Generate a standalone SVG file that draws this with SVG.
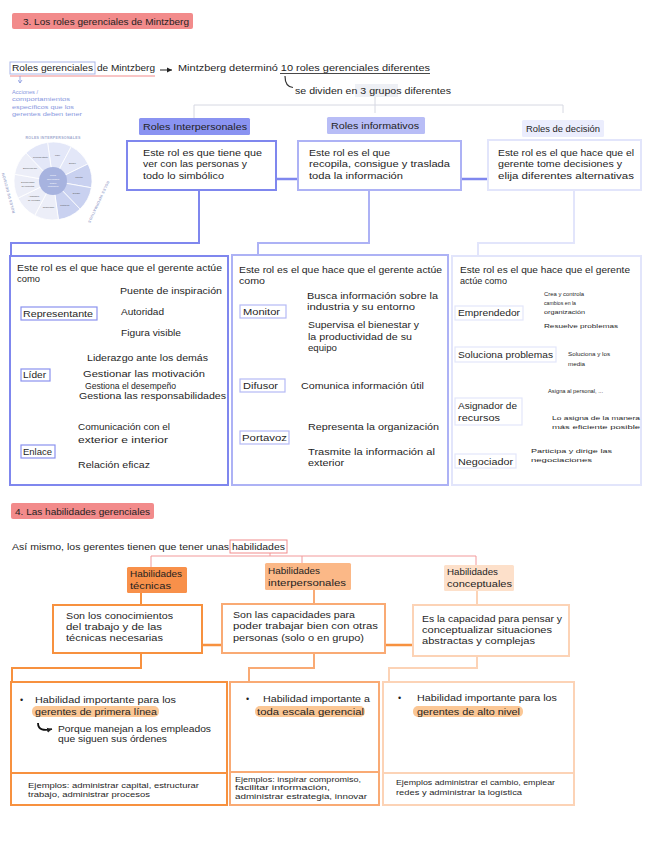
<svg xmlns="http://www.w3.org/2000/svg" width="649" height="848" viewBox="0 0 649 848">
<style>
text{font-family:"Liberation Sans",Arial,sans-serif;font-size:9px;fill:#1f1f1f}
.s{font-size:6px}
.e{font-size:6.5px}
.bl{font-size:5.5px;fill:#8797de}
.w{font-size:2.3px;fill:#555;text-anchor:middle}
.wc{font-size:2.4px;fill:#fff;text-anchor:middle}
.arc{font-size:3.6px;fill:#a3abcf;font-weight:bold;letter-spacing:0.3px;text-anchor:middle}
.hdr{fill:#f28b8b}
.b1{fill:#fff;stroke:#7f87ee;stroke-width:2}
.b2{fill:#fff;stroke:#adb2f5;stroke-width:2}
.b3{fill:#fff;stroke:#e2e5fb;stroke-width:2}
.l1{fill:#fff;stroke:#8a92ef;stroke-width:1.2}
.l2{fill:#fff;stroke:#b5baf5;stroke-width:1.2}
.l3{fill:#fff;stroke:#e3e6fb;stroke-width:1.2}
.o1{fill:#fff;stroke:#f7913f;stroke-width:2}
.o2{fill:#fff;stroke:#f9aa74;stroke-width:2}
.o3{fill:#fff;stroke:#fcd3b6;stroke-width:2}
.hl{fill:#fbc795}
.k1{fill:none;stroke:#7f87ee;stroke-width:2}
.k2{fill:none;stroke:#adb2f5;stroke-width:2}
.k3{fill:none;stroke:#e2e5fb;stroke-width:2}
.br1{fill:none;stroke:#8a92ef;stroke-width:1.2}
.br2{fill:none;stroke:#b5baf5;stroke-width:1.2}
.br3{fill:none;stroke:#e3e6fb;stroke-width:1.2}
.ko1{fill:none;stroke:#f7913f;stroke-width:2}
.ko2{fill:none;stroke:#f9aa74;stroke-width:2}
.ko3{fill:none;stroke:#fcd3b6;stroke-width:2}
.red{fill:none;stroke:#f2999a;stroke-width:1}
.grey{fill:none;stroke:#d6d8e2;stroke-width:1}
.seg{stroke:#fff;stroke-width:0.8}
</style>
<defs>
<marker id="ah" markerWidth="6" markerHeight="6" refX="5" refY="3" orient="auto" markerUnits="userSpaceOnUse"><path d="M0,0.5 L5,3 L0,5.5 Z" fill="#222"/></marker>
<marker id="ahb" markerWidth="5" markerHeight="5" refX="2.5" refY="4" orient="0" markerUnits="userSpaceOnUse"><path d="M0.5,1 L2.5,4 L4.5,1" fill="none" stroke="#8797de" stroke-width="0.8"/></marker>
</defs>

<g id="connectors">
<path d="M10,76 H155" stroke="#f28b8b" stroke-width="1.2" fill="none"/>
<path d="M160,70 H172" stroke="#222" stroke-width="1" fill="none" marker-end="url(#ah)"/>
<path d="M280,73.5 H430" stroke="#333" stroke-width="0.9" fill="none"/>
<path d="M285,76 C285,83 287,87 293,87.5" stroke="#333" stroke-width="1.2" fill="none"/>
<path d="M20,76 V83" stroke="#8797de" stroke-width="0.8" fill="none" marker-end="url(#ahb)"/>
<path class="grey" d="M194,118 V105 H563 V113 M375,97 V113"/>
<path d="M276,179 H298 M461,179 H488" stroke="#7f87ee" stroke-width="2.5" fill="none"/>
<path class="k1" d="M199,190 V243 H11 V256"/>
<path class="k2" d="M369,190 V243 H258 V255"/>
<path class="k3" d="M574,190 V243 H478 V256"/>
<path class="br1" d="M97,313 H106 M118,291 C109,291 106,294 106,300 V326 C106,332 109,335 118,335 M106,312 H118"/>
<path class="br1" d="M50,375 H63 M76,358 C67,358 63,361 63,367 V391 C63,396 67,399 76,399 M63,375 H79 M63,387 H82"/>
<path class="br1" d="M55,452 H63 M74,429 C66,429 63,432 63,438 V460 C63,465 66,468 74,468"/>
<path class="br2" d="M286,311 H293 M304,297 C297,297 293,300 293,305 V321 C293,326 297,328 304,328"/>
<path class="br2" d="M285,386 H296"/>
<path class="br2" d="M289,438 H293 M304,428 C297,428 293,431 293,436 V446 C293,451 297,453 304,453"/>
<path class="br3" d="M523,313 H530 M541,292 C534,292 530,296 530,302 V320 C530,325 534,327 541,327"/>
<path class="br3" d="M556,355 H564"/>
<path class="br3" d="M522,412 H533 M546,391 C538,391 533,396 533,403 V412 C533,418 538,420 549,420"/>
<path class="br3" d="M516,461 C523,461 522,452 529,452"/>
<path class="red" d="M151,568 V556 H476 V566 M302,556 V563 M270,553 V556"/>
<path class="ko1" d="M141,593 V605"/>
<path class="ko2" d="M314,590 V604"/>
<path class="ko3" d="M477,591 V605"/>
<path d="M202,645 H222 M385,645 H413" stroke="#f7913f" stroke-width="2.5" fill="none"/>
<path class="ko1" d="M141,653 V668 H12 V682"/>
<path class="ko2" d="M314,653 V668 H249 V682"/>
<path class="ko3" d="M477,656 V668 H389 V682"/>
</g>

<g id="header3">
<rect class="hdr" x="12" y="13" width="181" height="16" rx="2"/>
<text x="23" y="24.5" textLength="166" lengthAdjust="spacingAndGlyphs">3. Los roles gerenciales de Mintzberg</text>
</g>

<g id="title-roles">
<rect x="10" y="62" width="85" height="12" fill="none" stroke="#a9b6e8" stroke-width="1"/>
<text x="12" y="71" textLength="81" lengthAdjust="spacingAndGlyphs">Roles gerenciales</text>
<text x="97" y="71" textLength="58" lengthAdjust="spacingAndGlyphs">de Mintzberg</text>
</g>
<g id="title-def">
<text x="178" y="71" textLength="252" lengthAdjust="spacingAndGlyphs">Mintzberg determinó 10 roles gerenciales diferentes</text>
</g>
<g id="title-groups">
<rect x="355" y="84" width="43" height="13" fill="#eef0f5"/>
<text x="295" y="94" textLength="156" lengthAdjust="spacingAndGlyphs">se dividen en 3 grupos diferentes</text>
</g>
<g id="note-acciones">
<text class="bl" x="12" y="94" textLength="26" lengthAdjust="spacingAndGlyphs">Acciones /</text>
<text class="bl" x="12" y="101" textLength="58" lengthAdjust="spacingAndGlyphs">comportamientos</text>
<text class="bl" x="12" y="109" textLength="62" lengthAdjust="spacingAndGlyphs">específicos que los</text>
<text class="bl" x="12" y="116" textLength="70" lengthAdjust="spacingAndGlyphs">gerentes deben tener</text>
</g>

<g id="wheel" transform="translate(53,181)">
<path class="seg" d="M0,0 L-5.43,-38.62 A39,39 0 0 1 18.31,-34.43 Z" fill="#e3e7f8"/>
<path class="seg" d="M0,0 L18.31,-34.43 A39,39 0 0 1 35.05,-17.10 Z" fill="#e3e7f8"/>
<path class="seg" d="M0,0 L35.05,-17.10 A39,39 0 0 1 38.41,6.77 Z" fill="#c9d1f0"/>
<path class="seg" d="M0,0 L38.41,6.77 A39,39 0 0 1 27.09,28.05 Z" fill="#c9d1f0"/>
<path class="seg" d="M0,0 L27.09,28.05 A39,39 0 0 1 5.43,38.62 Z" fill="#c9d1f0"/>
<path class="seg" d="M0,0 L5.43,38.62 A39,39 0 0 1 -18.31,34.43 Z" fill="#eceef8"/>
<path class="seg" d="M0,0 L-18.31,34.43 A39,39 0 0 1 -35.05,17.10 Z" fill="#eceef8"/>
<path class="seg" d="M0,0 L-35.05,17.10 A39,39 0 0 1 -38.41,-6.77 Z" fill="#eceef8"/>
<path class="seg" d="M0,0 L-38.41,-6.77 A39,39 0 0 1 -27.09,-28.05 Z" fill="#eceef8"/>
<path class="seg" d="M0,0 L-27.09,-28.05 A39,39 0 0 1 -5.43,-38.62 Z" fill="#e3e7f8"/>
<circle r="14" fill="#a7b3df"/>
<text class="wc" x="0" y="-5">Roles</text>
<text class="wc" x="0" y="-1.2">gerenciales</text>
<text class="wc" x="0" y="2.6">según</text>
<text class="wc" x="0" y="6.4">Mintzberg</text>
<text class="w" x="4.5" y="-25.5">Líder</text>
<text class="w" x="19.5" y="-17.3">Enlace</text>
<text class="w" x="26" y="-2.8">Monitor</text>
<text class="w" x="23.5" y="13">Difusor</text>
<text class="w" x="11.8" y="24.6">Portavoz</text>
<text class="w" x="-4.5" y="27.4">Negociador</text>
<text class="w" x="-19" y="16.4">Asignador</text>
<text class="w" x="-19" y="20.2">de recursos</text>
<text class="w" x="-25.2" y="1.8">Solucionador</text>
<text class="w" x="-25.2" y="5.6">de conflictos</text>
<text class="w" x="-23" y="-12">Emprendedor</text>
<text class="w" x="-12.5" y="-23.2">Representante</text>
<text class="arc" x="0" y="-42.5">ROLES INTERPERSONALES</text>
<text class="arc" transform="translate(44.5,20.5) rotate(115)">ROLES INFORMATIVOS</text>
<text class="arc" transform="translate(-43.5,11.6) rotate(-105)">ROLES DE DECISIÓN</text>
</g>

<g id="roles-interpersonales">
<rect x="139" y="118" width="111" height="17" fill="#8a93f1" rx="1.5"/>
<text x="143" y="130" textLength="104" lengthAdjust="spacingAndGlyphs">Roles Interpersonales</text>
</g>
<g id="roles-informativos">
<rect x="327" y="117" width="98" height="17" fill="#b8bdf6" rx="1.5"/>
<text x="331" y="129" textLength="88" lengthAdjust="spacingAndGlyphs">Roles informativos</text>
</g>
<g id="roles-decision">
<rect x="522" y="120" width="82" height="17" fill="#ebedfd" rx="1.5"/>
<text x="526" y="132" textLength="74" lengthAdjust="spacingAndGlyphs">Roles de decisión</text>
</g>

<g id="desc-interpersonales">
<rect class="b1" x="127" y="141" width="149" height="49"/>
<text x="143" y="156" textLength="119" lengthAdjust="spacingAndGlyphs">Este rol es que tiene que</text>
<text x="143" y="167" textLength="104" lengthAdjust="spacingAndGlyphs">ver con las personas y</text>
<text x="143" y="179" textLength="81" lengthAdjust="spacingAndGlyphs">todo lo simbólico</text>
</g>
<g id="desc-informativos">
<rect class="b2" x="298" y="141" width="163" height="49"/>
<text x="309" y="156" textLength="81" lengthAdjust="spacingAndGlyphs">Este rol es el que</text>
<text x="309" y="167" textLength="141" lengthAdjust="spacingAndGlyphs">recopila, consigue y traslada</text>
<text x="309" y="179" textLength="94" lengthAdjust="spacingAndGlyphs">toda la información</text>
</g>
<g id="desc-decision">
<rect class="b3" x="488" y="140" width="153" height="50"/>
<text x="498" y="156" textLength="136" lengthAdjust="spacingAndGlyphs">Este rol es el que hace que el</text>
<text x="498" y="167" textLength="124" lengthAdjust="spacingAndGlyphs">gerente tome decisiones y</text>
<text x="498" y="179" textLength="136" lengthAdjust="spacingAndGlyphs">elija diferentes alternativas</text>
</g>

<g id="detalle-interpersonales">
<rect class="b1" x="10" y="256" width="218" height="229"/>
<text x="17" y="271" textLength="205" lengthAdjust="spacingAndGlyphs">Este rol es el que hace que el gerente actúe</text>
<text x="17" y="282" textLength="23" lengthAdjust="spacingAndGlyphs">como</text>
<rect class="l1" x="21" y="307" width="76" height="13"/>
<text x="23" y="317" textLength="70" lengthAdjust="spacingAndGlyphs">Representante</text>
<text x="120" y="294" textLength="102" lengthAdjust="spacingAndGlyphs">Puente de inspiración</text>
<text x="121" y="315" textLength="43" lengthAdjust="spacingAndGlyphs">Autoridad</text>
<text x="121" y="336" textLength="60" lengthAdjust="spacingAndGlyphs">Figura visible</text>
<rect class="l1" x="21" y="369" width="29" height="12"/>
<text x="23" y="378" textLength="23" lengthAdjust="spacingAndGlyphs">Líder</text>
<text x="87" y="361" textLength="121" lengthAdjust="spacingAndGlyphs">Liderazgo ante los demás</text>
<text x="83" y="377" textLength="122" lengthAdjust="spacingAndGlyphs">Gestionar las motivación</text>
<text x="85" y="389" textLength="91" lengthAdjust="spacingAndGlyphs">Gestiona el desempeño</text>
<text x="79" y="399" textLength="147" lengthAdjust="spacingAndGlyphs">Gestiona las responsabilidades</text>
<rect class="l1" x="21" y="445" width="34" height="13"/>
<text x="23" y="455" textLength="29" lengthAdjust="spacingAndGlyphs">Enlace</text>
<text x="78" y="430" textLength="92" lengthAdjust="spacingAndGlyphs">Comunicación con el</text>
<text x="78" y="443" textLength="90" lengthAdjust="spacingAndGlyphs">exterior e interior</text>
<text x="78" y="468" textLength="72" lengthAdjust="spacingAndGlyphs">Relación eficaz</text>
</g>

<g id="detalle-informativos">
<rect class="b2" x="232" y="255" width="216" height="230"/>
<text x="239" y="273" textLength="203" lengthAdjust="spacingAndGlyphs">Este rol es el que hace que el gerente actúe</text>
<text x="239" y="284" textLength="26" lengthAdjust="spacingAndGlyphs">como</text>
<rect class="l2" x="240" y="305" width="46" height="13"/>
<text x="243" y="315" textLength="37" lengthAdjust="spacingAndGlyphs">Monitor</text>
<text x="307" y="299" textLength="131" lengthAdjust="spacingAndGlyphs">Busca información sobre la</text>
<text x="307" y="310" textLength="108" lengthAdjust="spacingAndGlyphs">industria y su entorno</text>
<text x="308" y="328" textLength="111" lengthAdjust="spacingAndGlyphs">Supervisa el bienestar y</text>
<text x="308" y="340" textLength="104" lengthAdjust="spacingAndGlyphs">la productividad de su</text>
<text x="308" y="351" textLength="29" lengthAdjust="spacingAndGlyphs">equipo</text>
<rect class="l2" x="240" y="379" width="45" height="13"/>
<text x="243" y="389" textLength="35" lengthAdjust="spacingAndGlyphs">Difusor</text>
<text x="301" y="389" textLength="123" lengthAdjust="spacingAndGlyphs">Comunica información útil</text>
<rect class="l2" x="240" y="431" width="49" height="13"/>
<text x="242" y="441" textLength="45" lengthAdjust="spacingAndGlyphs">Portavoz</text>
<text x="308" y="430" textLength="131" lengthAdjust="spacingAndGlyphs">Representa la organización</text>
<text x="308" y="455" textLength="127" lengthAdjust="spacingAndGlyphs">Trasmite la información al</text>
<text x="308" y="466" textLength="36" lengthAdjust="spacingAndGlyphs">exterior</text>
</g>

<g id="detalle-decision">
<rect class="b3" x="452" y="256" width="189" height="229"/>
<text x="460" y="273" textLength="170" lengthAdjust="spacingAndGlyphs">Este rol es el que hace que el gerente</text>
<text x="460" y="284" textLength="47" lengthAdjust="spacingAndGlyphs">actúe como</text>
<rect class="l3" x="455" y="306" width="68" height="14"/>
<text x="458" y="316" textLength="62" lengthAdjust="spacingAndGlyphs">Emprendedor</text>
<text class="s" x="544" y="296" textLength="40" lengthAdjust="spacingAndGlyphs">Crea y controla</text>
<text class="s" x="544" y="305" textLength="32" lengthAdjust="spacingAndGlyphs">cambios en la</text>
<text class="s" x="544" y="314" textLength="41" lengthAdjust="spacingAndGlyphs">organización</text>
<text class="s" x="544" y="328" textLength="74" lengthAdjust="spacingAndGlyphs">Resuelve problemas</text>
<rect class="l3" x="455" y="347" width="101" height="15"/>
<text x="458" y="358" textLength="95" lengthAdjust="spacingAndGlyphs">Soluciona problemas</text>
<text class="s" x="568" y="356" textLength="42" lengthAdjust="spacingAndGlyphs">Soluciona y los</text>
<text class="s" x="568" y="366" textLength="17" lengthAdjust="spacingAndGlyphs">media</text>
<rect class="l3" x="455" y="398" width="67" height="27"/>
<text x="458" y="409" textLength="59" lengthAdjust="spacingAndGlyphs">Asignador de</text>
<text x="458" y="421" textLength="42" lengthAdjust="spacingAndGlyphs">recursos</text>
<text class="s" x="548" y="393" textLength="55" lengthAdjust="spacingAndGlyphs">Asigna al personal, ...</text>
<text class="s" x="552" y="420" textLength="88" lengthAdjust="spacingAndGlyphs">Lo asigna de la manera</text>
<text class="s" x="552" y="429" textLength="88" lengthAdjust="spacingAndGlyphs">más eficiente posible</text>
<rect class="l3" x="455" y="454" width="61" height="14"/>
<text x="458" y="465" textLength="55" lengthAdjust="spacingAndGlyphs">Negociador</text>
<text class="s" x="531" y="453" textLength="81" lengthAdjust="spacingAndGlyphs">Participa y dirige las</text>
<text class="s" x="531" y="462" textLength="61" lengthAdjust="spacingAndGlyphs">negociaciones</text>
</g>

<g id="header4">
<rect class="hdr" x="11" y="503" width="143" height="16" rx="2"/>
<text x="15" y="514.5" textLength="135" lengthAdjust="spacingAndGlyphs">4. Las habilidades gerenciales</text>
</g>
<g id="intro-habilidades">
<text x="12" y="550" textLength="217" lengthAdjust="spacingAndGlyphs">Así mismo, los gerentes tienen que tener unas</text>
<rect x="230" y="540" width="57" height="13" fill="none" stroke="#f28b8b" stroke-width="1"/>
<text x="232" y="550" textLength="53" lengthAdjust="spacingAndGlyphs">habilidades</text>
</g>

<g id="hab-tecnicas">
<rect x="127" y="567" width="60" height="26" fill="#f8904a" rx="1.5"/>
<text x="130" y="577" textLength="52" lengthAdjust="spacingAndGlyphs">Habilidades</text>
<text x="130" y="589" textLength="41" lengthAdjust="spacingAndGlyphs">técnicas</text>
</g>
<g id="hab-interpersonales">
<rect x="265" y="563" width="86" height="27" fill="#fbb887" rx="1.5"/>
<text x="268" y="574" textLength="52" lengthAdjust="spacingAndGlyphs">Habilidades</text>
<text x="268" y="586" textLength="78" lengthAdjust="spacingAndGlyphs">interpersonales</text>
</g>
<g id="hab-conceptuales">
<rect x="444" y="565" width="70" height="26" fill="#fde0ca" rx="1.5"/>
<text x="447" y="575" textLength="51" lengthAdjust="spacingAndGlyphs">Habilidades</text>
<text x="447" y="587" textLength="65" lengthAdjust="spacingAndGlyphs">conceptuales</text>
</g>

<g id="desc-tecnicas">
<rect class="o1" x="53" y="605" width="149" height="48"/>
<text x="66" y="619" textLength="107" lengthAdjust="spacingAndGlyphs">Son los conocimientos</text>
<text x="66" y="630" textLength="96" lengthAdjust="spacingAndGlyphs">del trabajo y de las</text>
<text x="66" y="641" textLength="97" lengthAdjust="spacingAndGlyphs">técnicas necesarias</text>
</g>
<g id="desc-interpersonales-hab">
<rect class="o2" x="222" y="604" width="163" height="49"/>
<text x="233" y="618" textLength="122" lengthAdjust="spacingAndGlyphs">Son las capacidades para</text>
<text x="233" y="629" textLength="145" lengthAdjust="spacingAndGlyphs">poder trabajar bien con otras</text>
<text x="233" y="641" textLength="131" lengthAdjust="spacingAndGlyphs">personas (solo o en grupo)</text>
</g>
<g id="desc-conceptuales">
<rect class="o3" x="413" y="605" width="156" height="51"/>
<text x="422" y="622" textLength="140" lengthAdjust="spacingAndGlyphs">Es la capacidad para pensar y</text>
<text x="422" y="633" textLength="130" lengthAdjust="spacingAndGlyphs">conceptualizar situaciones</text>
<text x="422" y="644" textLength="113" lengthAdjust="spacingAndGlyphs">abstractas y complejas</text>
</g>

<g id="detalle-tecnicas">
<rect class="o1" x="11" y="682" width="216" height="123"/>
<path d="M11,773 H227" stroke="#f7913f" stroke-width="2"/>
<text x="20" y="703">•</text>
<text x="35" y="703" textLength="141" lengthAdjust="spacingAndGlyphs">Habilidad importante para los</text>
<rect class="hl" x="32" y="706" width="127" height="11" rx="5"/>
<text x="35" y="715" textLength="122" lengthAdjust="spacingAndGlyphs">gerentes de primera línea</text>
<path d="M38,723 C38,730 44,731 52,729" fill="none" stroke="#111" stroke-width="1.8" marker-end="url(#ah)"/>
<text x="58" y="732" textLength="153" lengthAdjust="spacingAndGlyphs">Porque manejan a los empleados</text>
<text x="58" y="742" textLength="109" lengthAdjust="spacingAndGlyphs">que siguen sus órdenes</text>
<text class="e" x="28" y="788" textLength="171" lengthAdjust="spacingAndGlyphs">Ejemplos: administrar capital, estructurar</text>
<text class="e" x="28" y="797" textLength="122" lengthAdjust="spacingAndGlyphs">trabajo, administrar procesos</text>
</g>
<g id="detalle-interpersonales-hab">
<rect class="o2" x="230" y="682" width="149" height="123"/>
<path d="M230,772 H379" stroke="#f9aa74" stroke-width="2"/>
<text x="246" y="702">•</text>
<text x="263" y="702" textLength="107" lengthAdjust="spacingAndGlyphs">Habilidad importante a</text>
<rect class="hl" x="255" y="706" width="110" height="11" rx="5"/>
<text x="257" y="715" textLength="107" lengthAdjust="spacingAndGlyphs">toda escala gerencial</text>
<text class="e" x="235" y="782" textLength="126" lengthAdjust="spacingAndGlyphs">Ejemplos: inspirar compromiso,</text>
<text class="e" x="235" y="790" textLength="95" lengthAdjust="spacingAndGlyphs">facilitar información,</text>
<text class="e" x="235" y="799" textLength="132" lengthAdjust="spacingAndGlyphs">administrar estrategia, innovar</text>
</g>
<g id="detalle-conceptuales">
<rect class="o3" x="383" y="682" width="191" height="123"/>
<path d="M383,773 H574" stroke="#fcd3b6" stroke-width="2"/>
<text x="398" y="701">•</text>
<text x="417" y="701" textLength="140" lengthAdjust="spacingAndGlyphs">Habilidad importante para los</text>
<rect class="hl" x="413" y="706" width="110" height="11" rx="5"/>
<text x="417" y="714.5" textLength="103" lengthAdjust="spacingAndGlyphs">gerentes de alto nivel</text>
<text class="e" x="396" y="785" textLength="159" lengthAdjust="spacingAndGlyphs">Ejemplos administrar el cambio, emplear</text>
<text class="e" x="396" y="795" textLength="126" lengthAdjust="spacingAndGlyphs">redes y administrar la logística</text>
</g>
</svg>
